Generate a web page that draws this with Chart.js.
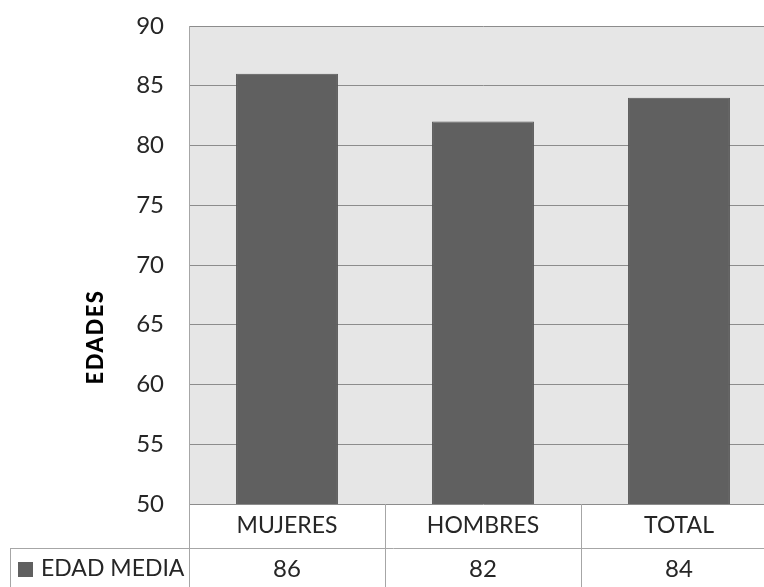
<!DOCTYPE html>
<html>
<head>
<meta charset="utf-8">
<script src="https://cdn.jsdelivr.net/npm/chart.js@4"></script>
<style>
  html, body { margin: 0; padding: 0; background: #fff; overflow: hidden; }
  #wrap { width: 780px; height: 587px; }
</style>
</head>
<body>
<div id="wrap"><canvas id="edades" width="780" height="587"></canvas></div>
<script>
const categories = ['MUJERES', 'HOMBRES', 'TOTAL'];
const edadMedia = [86, 82, 84];
const seriesName = 'EDAD MEDIA';
const yMin = 50, yMax = 90, yStep = 5;

const FONT = 'Lato, "Open Sans", sans-serif';
const LINE = '#a6a6a6';

// table under the plot: category row + series row with legend key
const dataTable = {
    id: 'dataTable',
    beforeDraw(chart) {
        const { ctx, chartArea: a } = chart;
        ctx.save();
        ctx.fillStyle = '#e6e6e6';
        ctx.fillRect(a.left, a.top, a.right - a.left, a.bottom - a.top);
        ctx.restore();
    },
    afterDraw(chart) {
        const { ctx, chartArea: a } = chart;
        const xs = chart.scales.x;
        const w = (a.right - a.left) / categories.length;
        const row1 = a.bottom, row2 = a.bottom + 44, row3 = a.bottom + 88;
        ctx.save();
        ctx.strokeStyle = LINE;
        ctx.lineWidth = 1;
        ctx.beginPath();
        ctx.moveTo(10, row2 + 0.5); ctx.lineTo(a.right, row2 + 0.5);
        ctx.moveTo(10.5, row2); ctx.lineTo(10.5, row3);
        ctx.moveTo(10, row3 + 0.5); ctx.lineTo(a.right, row3 + 0.5);
        for (let i = 0; i <= categories.length; i++) {
            const x = Math.round(a.left + i * w) + 0.5;
            ctx.moveTo(x, row1); ctx.lineTo(x, row3);
        }
        ctx.stroke();

        ctx.fillStyle = '#262626';
        ctx.textAlign = 'center';
        ctx.textBaseline = 'middle';
        categories.forEach((c, i) => {
            const x = xs.getPixelForValue(i);
            ctx.font = '23px ' + FONT;
            ctx.fillText(c, x, row1 + 22);
            ctx.font = '24px ' + FONT;
            ctx.fillText(String(edadMedia[i]), x, row2 + 21);
        });

        ctx.fillStyle = '#606060';
        ctx.fillRect(18, row2 + 14, 15, 15);
        ctx.fillStyle = '#262626';
        ctx.textAlign = 'left';
        ctx.font = '23px ' + FONT;
        ctx.fillText(seriesName, 41, row2 + 21);

        // vertical axis title
        ctx.font = '900 22px ' + FONT;
        ctx.letterSpacing = '1.5px';
        ctx.textAlign = 'center';
        ctx.translate(96, 337);
        ctx.rotate(-Math.PI / 2);
        ctx.fillStyle = '#000';
        ctx.fillText('EDADES', 0, 0);
        ctx.restore();
    }
};

new Chart(document.getElementById('edades'), {
    type: 'bar',
    data: {
        labels: categories,
        datasets: [{
            label: seriesName,
            data: edadMedia,
            backgroundColor: '#606060',
            borderColor: '#565656',
            borderWidth: 1,
            categoryPercentage: 0.52,
            barPercentage: 1
        }]
    },
    options: {
        responsive: false,
        animation: false,
        layout: { padding: { top: 26, right: 3, bottom: 83, left: 0 } },
        plugins: { legend: { display: false }, tooltip: { enabled: false } },
        scales: {
            x: { display: false },
            y: {
                min: yMin,
                max: yMax,
                ticks: { stepSize: yStep, padding: 25, color: '#262626', font: { family: FONT, size: 24 } },
                grid: { color: '#8c8c8c', drawTicks: false },
                border: { color: LINE },
                afterFit(scale) {
                    scale.width = 189;
                    // labels may hang into the padding; keep plot edges fixed
                    scale.paddingTop = 0;
                    scale.paddingBottom = 0;
                }
            }
        }
    },
    plugins: [dataTable]
});
</script>
</body>
</html>
